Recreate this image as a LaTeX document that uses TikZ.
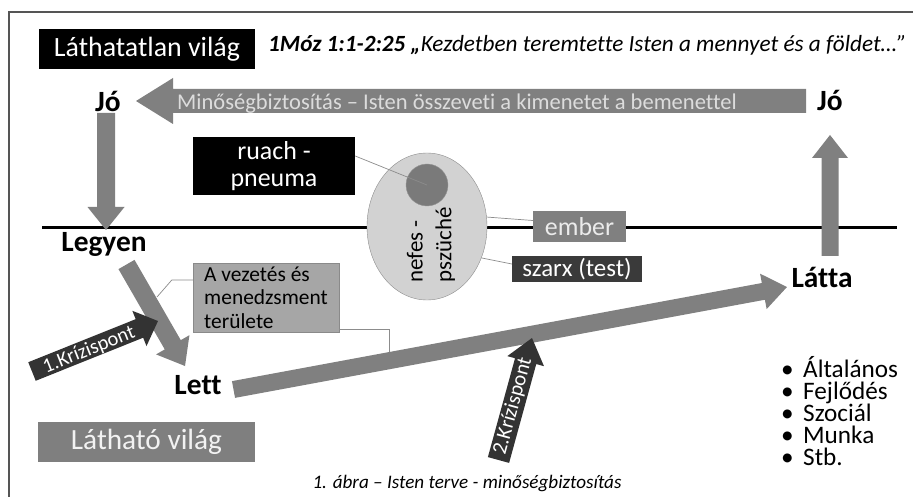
\documentclass[tikz,border=0pt]{standalone}
\usepackage{fontspec}
\setmainfont[Ligatures=CommonOff]{Carlito}
\usetikzlibrary{shapes.geometric,calc}
\definecolor{arrgray}{HTML}{808080}
\definecolor{arrtext}{HTML}{DCDCDC}
\definecolor{krizfill}{HTML}{333333}
\definecolor{ellfill}{HTML}{D2D2D2}
\definecolor{ellborder}{HTML}{8C8C8C}
\definecolor{circfill}{HTML}{7A7A7A}
\definecolor{circborder}{HTML}{959595}
\definecolor{embertext}{HTML}{EBEBEB}
\definecolor{szarxfill}{HTML}{3A3A3A}
\definecolor{vezfill}{HTML}{A6A6A6}
\definecolor{vezborder}{HTML}{8A8A8A}
\definecolor{lathfill}{HTML}{7F7F7F}
\definecolor{lathtext}{HTML}{F2F2F2}
\definecolor{framecol}{HTML}{555555}
\definecolor{conncol}{HTML}{8C8C8C}
% fat arrow: x1,y1,x2,y2,shaft width,head width,head length,fill
\newcommand{\fatarr}[8]{%
  \pgfmathsetmacro\fL{veclen(#3-#1,#4-#2)}%
  \pgfmathsetmacro\fang{atan2(#2-#4,#3-#1)}%
  \begin{scope}[shift={(#1,#2)},rotate=\fang]
    \fill[#8] (0,{-#5/2}) -- ({\fL-#7},{-#5/2}) -- ({\fL-#7},{-#6/2}) -- (\fL,0)
      -- ({\fL-#7},{#6/2}) -- ({\fL-#7},{#5/2}) -- (0,{#5/2}) -- cycle;
  \end{scope}}
\begin{document}
\begin{tikzpicture}[x=1bp,y=-1bp,
  fsz/.style 2 args={font=\fontsize{#1}{#2}\selectfont},
  bigword/.style={anchor=base,inner sep=0,font=\fontsize{29.5}{31}\selectfont\bfseries},
  conn/.style={draw=conncol,line width=0.7bp},
  plain/.style={inner sep=0}]
\useasboundingbox (0,0) rectangle (913,497);
\fill[white] (0,0) rectangle (913,497);
% frame
\draw[framecol,line width=1.3bp] (9,497) -- (9,12) -- (913,12);

% header
\node[fill=black,text=white,minimum width=216bp,minimum height=40bp,plain,fsz={28}{30}] (lathatatlan) at (147,49) {Láthatatlan világ};
\node[anchor=base west,plain,fsz={23.3}{25}] (title) at (268,52) {\bfseries\itshape 1Móz 1:1-2:25 „\mdseries Kezdetben teremtette Isten a mennyet és a földet…”};

% horizontal line
\draw[line width=3bp] (42,227.5) -- (897,227.5);

% top arrow
\fatarr{806}{101}{136}{101}{24}{46}{37}{arrgray}
\node[anchor=base,plain,text=arrtext,fsz={22.6}{24}] (qa) at (457,110) {Minőségbiztosítás – Isten összeveti a kimenetet a bemenettel};
\node[bigword] (joL) at (108,112) {Jó};
\node[bigword] (joR) at (830,111) {Jó};

% down and up arrows
\fatarr{106}{113}{106}{230}{18}{37}{23}{arrgray}
\fatarr{830}{256}{830}{135}{17}{36}{23}{arrgray}

% ruach, nefes
\node[fill=black,text=white,minimum width=162bp,minimum height=58bp,plain,align=center,fsz={26}{26.5}] (ruach) at (274,166) {ruach -\\pneuma};
\node[ellipse,draw=ellborder,fill=ellfill,minimum width=120bp,minimum height=147bp,plain] (nefes) at (427,226.5) {};
\node[circle,draw=circborder,fill=circfill,minimum size=42bp,plain] (ruachdot) at (427,185) {};
\node[rotate=90,align=left,plain,fsz={23}{29}] (nefestext) at (431,245) {nefes -\\pszüché};
\node[fill=arrgray,text=embertext,minimum width=93bp,minimum height=31bp,plain,fsz={26}{27}] (ember) at (579.5,226.5) {ember};
\node[fill=szarxfill,text=white,minimum width=130bp,minimum height=26bp,plain,fsz={25}{26}] (szarx) at (577,269) {szarx (test)};
\draw[conn] ([yshift=10bp]ruach.east) -- (ruachdot.center);
\draw[conn] (nefes.9) -- ([yshift=6bp]ember.west);
\draw[conn] (nefes.-30) -- ([yshift=5bp]szarx.west);

% Legyen -> Lett
\node[bigword] (legyen) at (104,252) {Legyen};
\node[fill=vezfill,draw=vezborder,minimum width=146bp,minimum height=69bp,plain,align=left,fsz={21.5}{23.5}] (vez) at (266,297.5) {A vezetés és\\menedzsment\\területe};
\coordinate (vezL) at (157,297);
\coordinate (vezR) at (389,352);
\draw[conn] ([yshift=17.5bp]vez.west) -- ++(-21,0) -- (vezL);
\draw[conn] ([yshift=3bp]vez.south east) -| (vezR);
\fatarr{126.5}{264.5}{185}{366}{18.5}{38.5}{24.5}{arrgray}
\fatarr{32}{371.5}{158}{321}{20}{38}{20}{krizfill}
\node[rotate=21.8,text=white,plain,fsz={20.5}{21}] (kriz1) at (89,350) {1.Krízispont};
\node[bigword] (lett) at (198,394) {Lett};

% Lett -> Látta
\fatarr{233.5}{389.5}{787}{287}{17}{36}{24}{arrgray}
\fatarr{498.5}{460}{532}{338}{22}{38}{24}{krizfill}
\node[rotate=74.6,text=white,plain,fsz={21}{22}] (kriz2) at (513,406) {2.Krízispont};
\node[bigword] (latta) at (822,288) {Látta};

% list
\foreach \t [count=\i] in {Általános,Fejlődés,Szociál,Munka,Stb.}
  \node[anchor=base west,plain,fsz={25.3}{25}] (b\i) at (781,{355+22*\i}) {\makebox[22bp][l]{•}\t};

% bottom
\node[fill=lathfill,text=lathtext,minimum width=217bp,minimum height=40bp,plain,fsz={29.4}{30}] (lathato) at (146.5,442) {Látható világ};
\node[anchor=base,plain,fsz={19.2}{20}] (caption) at (467,488) {\itshape 1. ábra – Isten terve - minőségbiztosítás};
\end{tikzpicture}
\end{document}
